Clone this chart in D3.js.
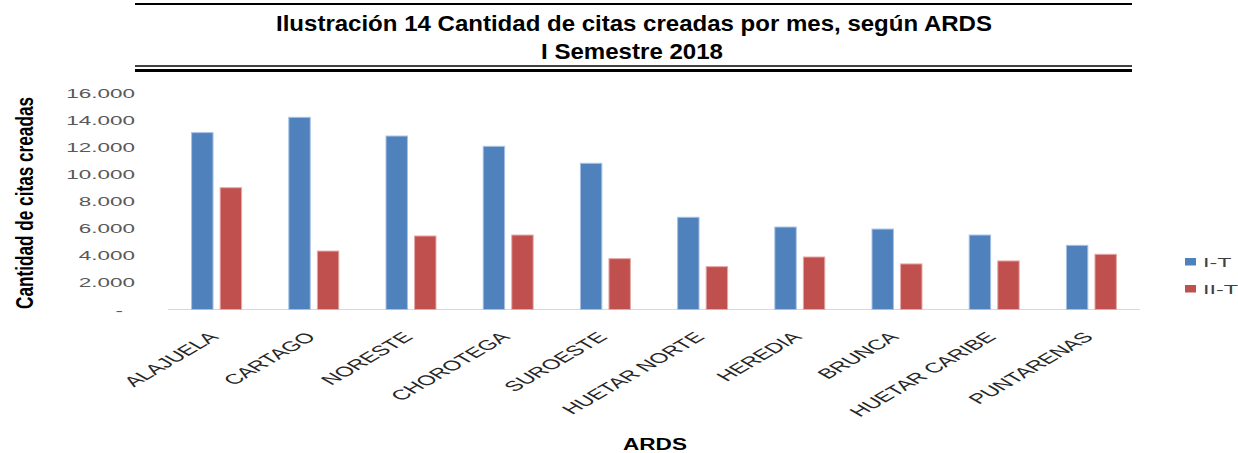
<!DOCTYPE html>
<html><head><meta charset="utf-8">
<script src="https://cdn.jsdelivr.net/npm/d3@7"></script>
<style>html,body{margin:0;padding:0;background:#fff;}svg{display:block;}</style>
</head><body>
<svg id="chart" width="1238" height="453"></svg>
<script>
const categories = ["ALAJUELA","CARTAGO","NORESTE","CHOROTEGA","SUROESTE","HUETAR NORTE","HEREDIA","BRUNCA","HUETAR CARIBE","PUNTARENAS"];
const seriesNames = ["I-T","II-T"];
const valuesIT  = [13040,14170,12790,12030,10780,6800,6080,5930,5490,4730];
const valuesIIT = [8980,4310,5420,5490,3750,3160,3870,3360,3580,4070];
const yTicks = [0,2000,4000,6000,8000,10000,12000,14000,16000];
const titleLines = ["Ilustración 14 Cantidad de citas creadas por mes, según ARDS","I Semestre 2018"];
const yTitle = "Cantidad de citas creadas";
const xTitle = "ARDS";
const colors = ["#4F81BD","#C0504D"];
const strokes = ["#a7c0e2","#e6a8a6"];

const svg = d3.select("#chart");
const SX = 1.73;

// title rules
svg.append("line").attr("x1",135).attr("x2",1132).attr("y1",4).attr("y2",4).attr("stroke","#000").attr("stroke-width",2.2);
svg.append("line").attr("x1",135).attr("x2",1132).attr("y1",66).attr("y2",66).attr("stroke","#000").attr("stroke-width",1.5);
svg.append("line").attr("x1",135).attr("x2",1132).attr("y1",70.5).attr("y2",70.5).attr("stroke","#000").attr("stroke-width",3);

svg.append("text").attr("x",634).attr("y",31).attr("text-anchor","middle")
  .attr("font-family","Liberation Sans, Arial, sans-serif").attr("font-weight","bold").attr("font-size",22)
  .attr("textLength",716).attr("lengthAdjust","spacingAndGlyphs").text(titleLines[0]);
svg.append("text").attr("x",632).attr("y",59).attr("text-anchor","middle")
  .attr("font-family","Liberation Sans, Arial, sans-serif").attr("font-weight","bold").attr("font-size",22)
  .attr("textLength",182).attr("lengthAdjust","spacingAndGlyphs").text(titleLines[1]);

const x0 = d3.scaleBand().domain(categories).range([168,1140]).paddingInner(0.486).paddingOuter(0.243);
const x1 = d3.scaleBand().domain(seriesNames).range([0,x0.bandwidth()]).paddingInner(0.25);
const y = d3.scaleLinear().domain([0,16000]).range([309.5,92.5]);

const locale = d3.formatLocale({decimal:",",thousands:".",grouping:[3],currency:["",""]});
const fmtTick = d => d===0 ? "-" : locale.format(",")(d);

// y tick labels
const yg = svg.append("g");
yTicks.forEach(t => {
  const xr = t===0 ? 123 : 135;
  yg.append("text")
    .attr("transform",`translate(${xr},${y(t)+5}) scale(${SX},1)`)
    .attr("text-anchor","end")
    .attr("font-family","Liberation Sans, Arial, sans-serif").attr("font-size",13)
    .attr("fill","#595959").text(fmtTick(t));
});

// axis line
svg.append("line").attr("x1",x0.range()[0]).attr("x2",x0.range()[1]).attr("y1",y(0)).attr("y2",y(0))
  .attr("stroke","#d9d9d9").attr("stroke-width",1.2);

// bars
const data = categories.map((c,i)=>({cat:c, vals:[valuesIT[i], valuesIIT[i]]}));
const groups = svg.append("g").selectAll("g").data(data).join("g")
  .attr("transform", d=>`translate(${x0(d.cat)},0)`);
groups.selectAll("rect").data(d=>d.vals.map((v,k)=>({k,v}))).join("rect")
  .attr("x", d=>x1(seriesNames[d.k]))
  .attr("width", x1.bandwidth())
  .attr("y", d=>y(d.v))
  .attr("height", d=>y(0)-y(d.v))
  .attr("fill", d=>colors[d.k])
  .attr("stroke", d=>strokes[d.k]).attr("stroke-width",1);

// x labels
categories.forEach(c => {
  const cx = x0(c) + x0.bandwidth()/2;
  svg.append("text")
    .attr("transform",`translate(${cx+3},338) scale(${SX},1) rotate(-45)`)
    .attr("text-anchor","end")
    .attr("font-family","Liberation Sans, Arial, sans-serif").attr("font-size",14)
    .attr("fill","#262626").text(c);
});

// y title
svg.append("text").attr("transform","translate(33,203) rotate(-90)").attr("text-anchor","middle")
  .attr("font-family","Liberation Sans, Arial, sans-serif").attr("font-weight","bold").attr("font-size",24)
  .attr("textLength",212).attr("lengthAdjust","spacingAndGlyphs").attr("fill","#000").text(yTitle);

// x title
svg.append("text").attr("x",655).attr("y",450).attr("text-anchor","middle")
  .attr("font-family","Liberation Sans, Arial, sans-serif").attr("font-weight","bold").attr("font-size",16)
  .attr("textLength",64).attr("lengthAdjust","spacingAndGlyphs").attr("fill","#000").text(xTitle);

// legend
const lg = svg.append("g");
seriesNames.forEach((s,k)=>{
  const yy = 262 + k*27;
  lg.append("rect").attr("x",1185).attr("y",yy-4).attr("width",11).attr("height",7.5).attr("fill",colors[k]);
  lg.append("text").attr("transform",`translate(1203,${yy+5}) scale(${SX},1)`)
    .attr("font-family","Liberation Sans, Arial, sans-serif").attr("font-size",13.5)
    .attr("fill","#404040").text(s);
});
</script>
</body></html>
